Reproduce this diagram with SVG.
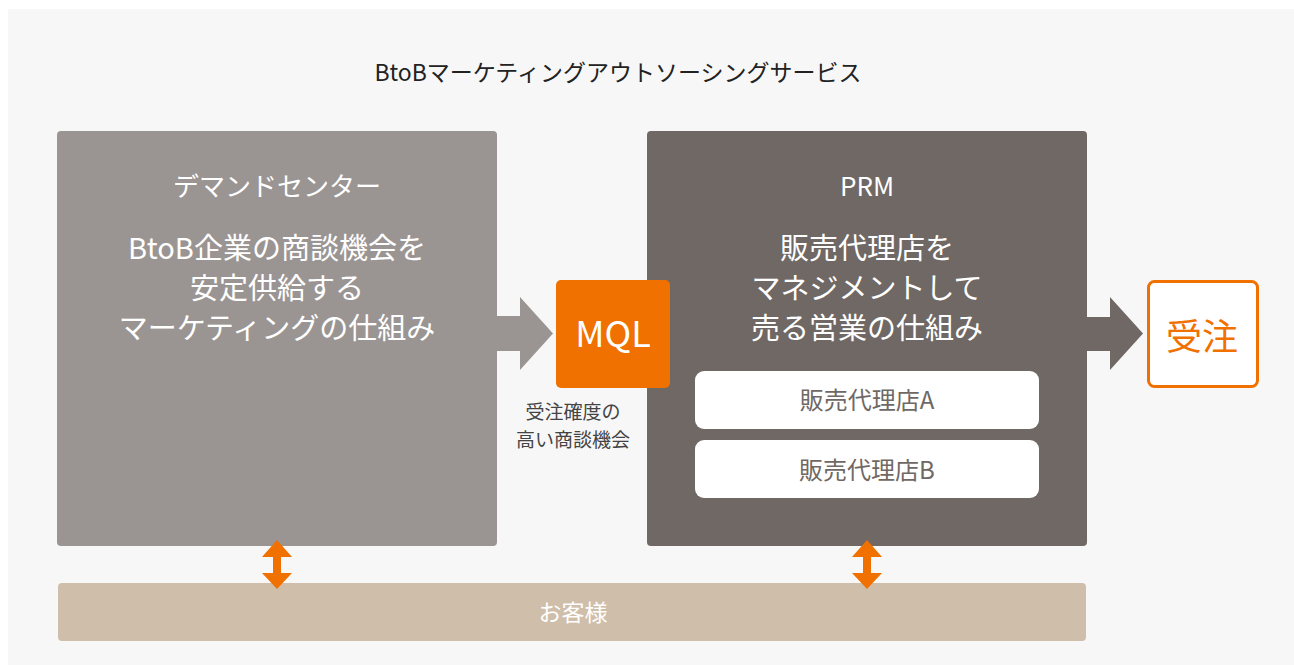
<svg xmlns="http://www.w3.org/2000/svg" width="1294" height="665" viewBox="0 0 1294 665">
<style>
text{font-family:"Noto Sans CJK JP","Noto Sans",sans-serif;text-anchor:middle}
.w{fill:#ffffff}
.head{font-size:26px}
.body{font-size:29px}
.sub{font-size:24px;fill:#6f6864}
.note{font-size:19px;fill:#444444}
</style>
<rect x="0" y="0" width="1294" height="665" fill="#ffffff"/>
<rect x="8" y="9" width="1286" height="656" fill="#f7f7f7"/>
<text x="618" y="81" font-size="23" fill="#222222">BtoBマーケティングアウトソーシングサービス</text>
<g id="demand-center">
<rect x="57" y="131" width="440" height="415" rx="4" fill="#9a9593"/>
<text class="w head" x="277" y="196">デマンドセンター</text>
<text class="w body" x="277" y="259">BtoB企業の商談機会を</text>
<text class="w body" x="277" y="299">安定供給する</text>
<text class="w body" x="277" y="339">マーケティングの仕組み</text>
</g>
<g id="prm">
<rect x="647" y="131" width="440" height="415" rx="4" fill="#6f6864"/>
<text class="w head" x="867" y="196">PRM</text>
<text class="w body" x="867" y="259">販売代理店を</text>
<text class="w body" x="867" y="299">マネジメントして</text>
<text class="w body" x="867" y="339">売る営業の仕組み</text>
</g>
<g id="agent-a">
<rect x="695" y="371" width="344" height="58" rx="9" fill="#ffffff"/>
<text class="sub" x="867" y="409">販売代理店A</text>
</g>
<g id="agent-b">
<rect x="695" y="440" width="344" height="58" rx="9" fill="#ffffff"/>
<text class="sub" x="867" y="479">販売代理店B</text>
</g>
<g id="mql">
<rect x="556" y="280" width="114" height="108" rx="5" fill="#f07000"/>
<text class="w" x="613" y="347" font-size="36">MQL</text>
<text class="note" x="573" y="419">受注確度の</text>
<text class="note" x="573" y="447">高い商談機会</text>
</g>
<g id="order">
<rect x="1148.5" y="281.5" width="109" height="105" rx="6" fill="#ffffff" stroke="#f07000" stroke-width="3"/>
<text x="1202" y="350" font-size="36" fill="#f07000">受注</text>
</g>
<g id="customer">
<rect x="58" y="583" width="1028" height="58" rx="4" fill="#cfbeaa"/>
<text class="w" x="573" y="621" font-size="23">お客様</text>
</g>
<g id="connectors">
<polygon points="497,316 520,316 520,297 553,333.5 520,370 520,351 497,351" fill="#9a9593"/>
<polygon points="1087,317 1110,317 1110,297 1143,333.5 1110,370 1110,351 1087,351" fill="#6f6864"/>
<polygon points="277,540 292,557 281,557 281,573 292,573 277,589 262,573 273,573 273,557 262,557" fill="#f07000"/>
<polygon points="867,540 882,557 871,557 871,573 882,573 867,589 852,573 863,573 863,557 852,557" fill="#f07000"/>
</g>
</svg>
